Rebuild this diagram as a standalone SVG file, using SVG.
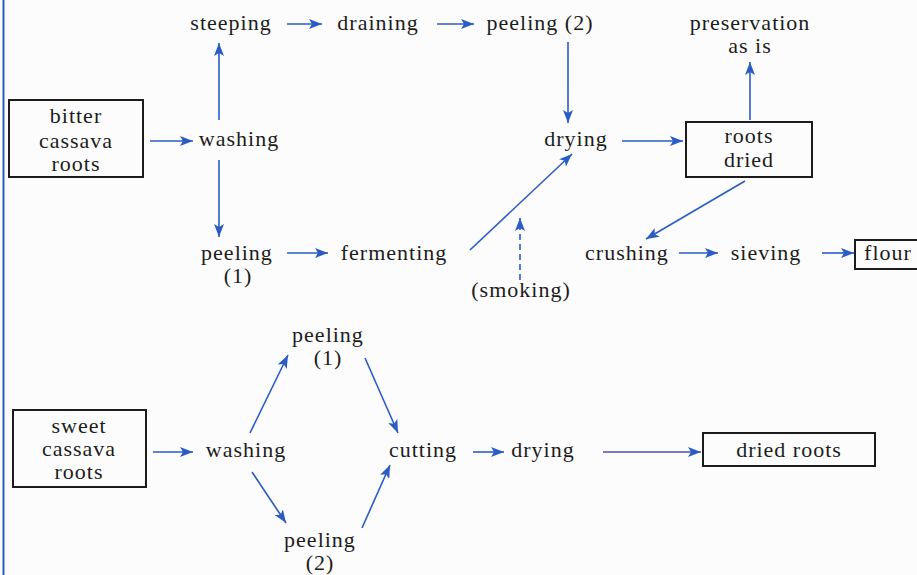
<svg xmlns="http://www.w3.org/2000/svg" width="917" height="575" viewBox="0 0 917 575">
<style>
text{font-family:"Liberation Serif","Times New Roman",serif;font-size:22px;fill:#1c1c1c;text-anchor:middle;letter-spacing:1px}
.box{fill:none;stroke:#1c1c1c;stroke-width:2}
.c{stroke:#2a5cc4;stroke-width:1.6;fill:none;marker-end:url(#ah)}
.p{stroke:#4a4fb8}
.d{stroke-dasharray:6 4}
</style>
<defs>
<marker id="ah" markerUnits="userSpaceOnUse" markerWidth="14" markerHeight="10" refX="13" refY="5" orient="auto">
<path d="M0,0 L13,5 L0,10 L3,5 Z" fill="#2a5cc4"/>
</marker>
</defs>
<rect width="917" height="575" fill="#fcfcfc"/>
<line x1="3.5" y1="0" x2="3.5" y2="575" stroke="#2a5cc4" stroke-width="2"/>

<g id="connectors">
<line class="c" x1="287" y1="24" x2="322" y2="24"/>
<line class="c" x1="437" y1="24" x2="474" y2="24"/>
<line class="c" x1="568" y1="42" x2="568" y2="123"/>
<line class="c" x1="622" y1="141" x2="683" y2="141"/>
<line class="c" x1="750" y1="120" x2="750" y2="62"/>
<line class="c" x1="150" y1="141" x2="193" y2="141"/>
<line class="c" x1="219" y1="120" x2="219" y2="43"/>
<line class="c" x1="219" y1="160" x2="219" y2="237"/>
<line class="c" x1="287" y1="253" x2="328" y2="253"/>
<line class="c" x1="470" y1="250" x2="572" y2="154"/>
<line class="c d" x1="520" y1="280" x2="520" y2="218"/>
<line class="c" x1="745" y1="181" x2="646" y2="239"/>
<line class="c" x1="679" y1="253" x2="718" y2="253"/>
<line class="c" x1="822" y1="253" x2="854" y2="253"/>
<line class="c" x1="153" y1="452" x2="193" y2="452"/>
<line class="c" x1="250" y1="433" x2="288" y2="355"/>
<line class="c" x1="365" y1="358" x2="398" y2="433"/>
<line class="c" x1="252" y1="472" x2="286" y2="523"/>
<line class="c" x1="362" y1="528" x2="390" y2="465"/>
<line class="c" x1="473" y1="452" x2="504" y2="452"/>
<line class="c p" x1="603" y1="452" x2="701" y2="452"/>
</g>

<g id="bitter"><rect class="box" x="9" y="100" width="134" height="77"/>
<text x="76" y="123">bitter</text><text x="76" y="148">cassava</text><text x="76" y="171">roots</text></g>
<g id="washing1"><text x="239" y="146">washing</text></g>
<g id="steeping"><text x="231" y="30">steeping</text></g>
<g id="draining"><text x="378" y="30">draining</text></g>
<g id="peeling2a"><text x="540" y="30">peeling  (2)</text></g>
<g id="drying1"><text x="576" y="146">drying</text></g>
<g id="rootsdried"><rect class="box" x="686" y="122" width="126" height="55"/>
<text x="749" y="143">roots</text><text x="749" y="167">dried</text></g>
<g id="preservation"><text x="750" y="30">preservation</text><text x="750" y="53">as is</text></g>
<g id="peeling1a"><text x="237" y="260">peeling</text><text x="238" y="283">(1)</text></g>
<g id="fermenting"><text x="394" y="260">fermenting</text></g>
<g id="smoking"><text x="521" y="297">(smoking)</text></g>
<g id="crushing"><text x="627" y="260">crushing</text></g>
<g id="sieving"><text x="766" y="260">sieving</text></g>
<g id="flour"><rect class="box" x="855" y="240" width="70" height="29"/><text x="888" y="260">flour</text></g>

<g id="sweet"><rect class="box" x="13" y="410" width="133" height="77"/>
<text x="79" y="433">sweet</text><text x="79" y="456">cassava</text><text x="79" y="479">roots</text></g>
<g id="washing2"><text x="246" y="457">washing</text></g>
<g id="peeling1b"><text x="328" y="342">peeling</text><text x="328" y="365">(1)</text></g>
<g id="peeling2b"><text x="320" y="547">peeling</text><text x="320" y="570">(2)</text></g>
<g id="cutting"><text x="423" y="457">cutting</text></g>
<g id="drying2"><text x="543" y="457">drying</text></g>
<g id="driedroots"><rect class="box" x="703" y="433" width="172" height="33"/><text x="789" y="457">dried  roots</text></g>
</svg>
